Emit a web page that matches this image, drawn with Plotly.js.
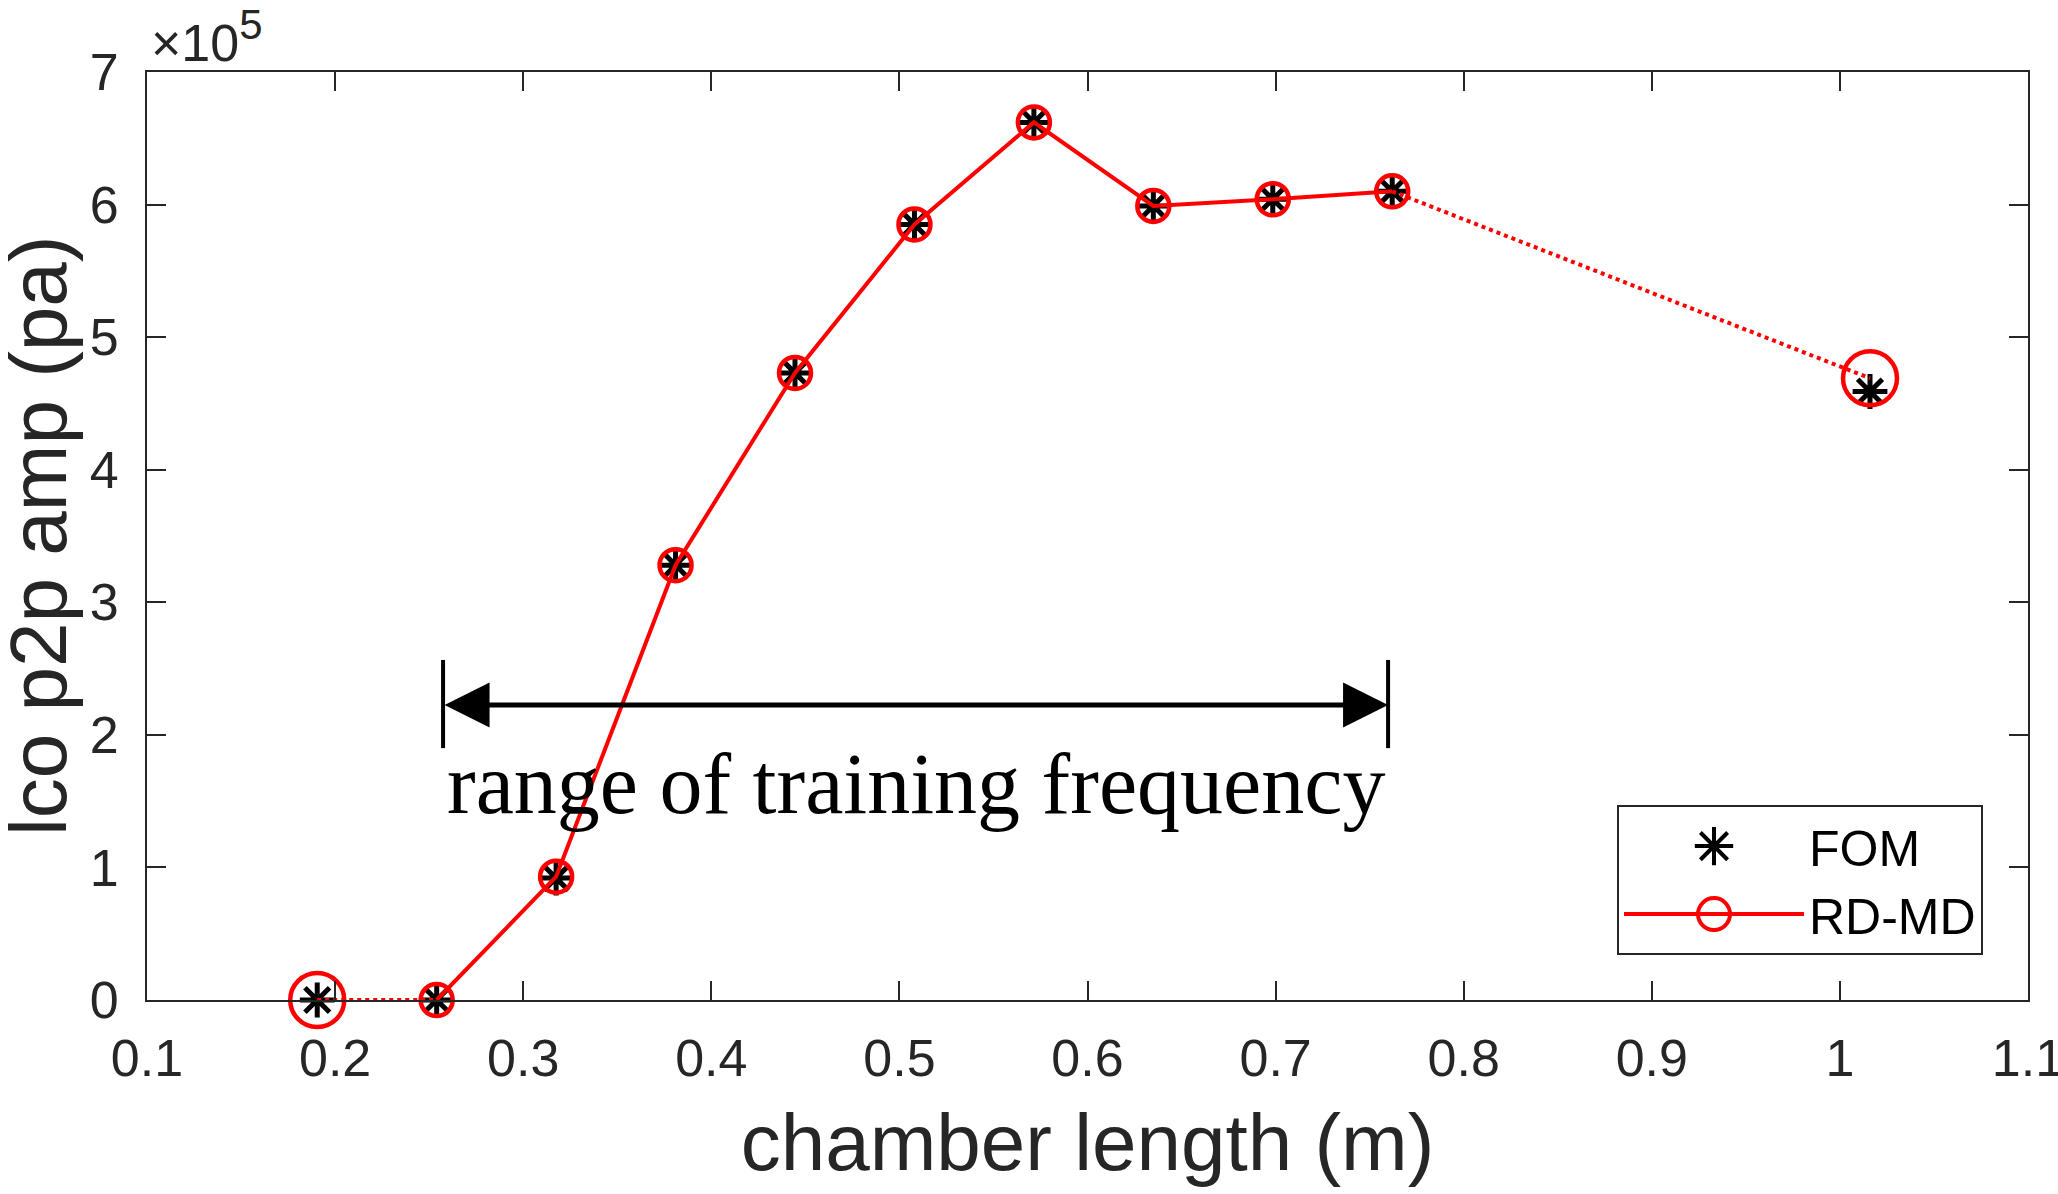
<!DOCTYPE html>
<html>
<head>
<meta charset="utf-8">
<script src="https://cdn.plot.ly/plotly-3.0.1.min.js"></script>
<style>
  html, body { margin: 0; padding: 0; background: #fff; }
  #chart { width: 2058px; height: 1194px; }
</style>
</head>
<body>
<div id="chart"></div>
<script>
'use strict';

/* ============================================================
   DATA
   ============================================================ */
var chamberLength = [0.1905, 0.254, 0.3175, 0.381, 0.4445, 0.508, 0.5715, 0.635, 0.6985, 0.762, 1.016];
var fomAmp        = [0, 0, 92000, 328000, 473000, 585000, 662000, 599000, 604000, 610000, 459000];
var rdmdAmp       = [0, 0, 93000, 328000, 473000, 585000, 662000, 599000, 604000, 610000, 469000];

var trainingRange = [0.2574, 0.7598];   // arrow "range of training frequency"
var arrowLevel    = 222500;
var barSpan       = [190000, 256500];

var xTickLabels = ['0.1', '0.2', '0.3', '0.4', '0.5', '0.6', '0.7', '0.8', '0.9', '1', '1.1'];
var yTickLabels = ['0', '1', '2', '3', '4', '5', '6', '7'];

/* ============================================================
   HELPERS
   ============================================================ */
var AXIS_COLOR = '#262626';
var RED        = '#ff0000';
var FONT       = 'Liberation Sans, Arial, sans-serif';

function inTraining(x) { return x >= 0.25 && x <= 0.77; }

function pick(arr, idx) { return idx.map(function (i) { return arr[i]; }); }

/* legend symbols are capped at 16px by plotly – blow them up to MATLAB size */
function enlargeLegendSymbols(gd) {
  gd.querySelectorAll('.legend .legendpoints path.scatterpts').forEach(function (p) {
    var t = p.getAttribute('transform') || '';
    p.setAttribute('transform', t + ' scale(2)');
    p.style.strokeWidth = '2px';
  });
}

/* ============================================================
   CHART
   ============================================================ */
function initChart() {
  var all     = chamberLength.map(function (_, i) { return i; });
  var inside  = all.filter(function (i) { return inTraining(chamberLength[i]); });
  var outside = all.filter(function (i) { return !inTraining(chamberLength[i]); });
  var first = inside[0], last = inside[inside.length - 1];
  var leftLink  = [outside[0], first];
  var rightLink = [last, outside[outside.length - 1]];

  var traces = [
    { x: chamberLength, y: fomAmp, name: 'FOM',
      type: 'scatter', mode: 'markers', cliponaxis: false,
      marker: { symbol: 'asterisk-open', size: 29, color: '#000',
                line: { color: '#000', width: 5 } } },
    { x: pick(chamberLength, leftLink), y: pick(rdmdAmp, leftLink),
      type: 'scatter', mode: 'lines', showlegend: false, cliponaxis: false,
      line: { color: RED, width: 4, dash: 'dot' } },
    { x: pick(chamberLength, rightLink), y: pick(rdmdAmp, rightLink),
      type: 'scatter', mode: 'lines', showlegend: false, cliponaxis: false,
      line: { color: RED, width: 4, dash: 'dot' } },
    { x: pick(chamberLength, inside), y: pick(rdmdAmp, inside), name: 'RD-MD',
      type: 'scatter', mode: 'lines+markers', cliponaxis: false,
      line: { color: RED, width: 4 },
      marker: { symbol: 'circle-open', size: 32, color: RED,
                line: { color: RED, width: 4.5 } } },
    { x: pick(chamberLength, outside), y: pick(rdmdAmp, outside),
      type: 'scatter', mode: 'markers', showlegend: false, cliponaxis: false,
      marker: { symbol: 'circle-open', size: 54, color: RED,
                line: { color: RED, width: 4.5 } } }
  ];

  var axisCommon = {
    showgrid: false, zeroline: false,
    showline: true, linecolor: AXIS_COLOR, linewidth: 2,
    mirror: 'ticks', ticks: 'inside', ticklen: 19, tickwidth: 2, tickcolor: AXIS_COLOR,
    ticklabeloverflow: 'allow',
    tickfont: { family: FONT, size: 52, color: AXIS_COLOR }
  };

  var layout = {
    width: 2058, height: 1194,
    paper_bgcolor: '#fff', plot_bgcolor: '#fff',
    font: { family: FONT, color: AXIS_COLOR },
    margin: { l: 147, r: 30, t: 72, b: 194 },
    xaxis: Object.assign({}, axisCommon, {
      range: [0.1, 1.1],
      tickvals: xTickLabels.map(Number), ticktext: xTickLabels,
      ticklabelstandoff: 12,
      title: { text: 'chamber length (m)', font: { family: FONT, size: 80, color: AXIS_COLOR }, standoff: 28 }
    }),
    yaxis: Object.assign({}, axisCommon, {
      range: [0, 700000],
      tickvals: yTickLabels.map(function (t) { return Number(t) * 1e5; }), ticktext: yTickLabels,
      ticklabelstandoff: 16
    }),
    showlegend: true,
    legend: {
      x: 0.7815, y: 0.21, xanchor: 'left', yanchor: 'top',
      bgcolor: '#fff', bordercolor: AXIS_COLOR, borderwidth: 2,
      font: { family: FONT, size: 50, color: '#000' },
      itemwidth: 180, tracegroupgap: 0
    },
    shapes: trainingRange.map(function (xv) {
      return { type: 'line', xref: 'x', yref: 'y', x0: xv, x1: xv, y0: barSpan[0], y1: barSpan[1],
               line: { color: '#000', width: 4 } };
    }),
    annotations: [
      { xref: 'x', yref: 'y', axref: 'x', ayref: 'y',
        x: trainingRange[1], y: arrowLevel, ax: trainingRange[0], ay: arrowLevel,
        text: '', showarrow: true, arrowside: 'end+start',
        arrowhead: 2, startarrowhead: 2, arrowsize: 1.8, startarrowsize: 1.8,
        arrowwidth: 5, arrowcolor: '#000', standoff: 0, startstandoff: 0 },
      { xref: 'x', yref: 'y', x: (trainingRange[0] + trainingRange[1]) / 2, y: 163000,
        xanchor: 'center', yanchor: 'middle', showarrow: false,
        text: 'range of training frequency',
        font: { family: 'Liberation Serif, Times New Roman, serif', size: 86, color: '#000' } },
      /* y-axis title, placed like MATLAB's */
      { xref: 'paper', yref: 'paper', x: -0.058, y: 0.5, xanchor: 'center', yanchor: 'middle',
        textangle: -90, showarrow: false,
        text: 'lco p2p amp (pa)',
        font: { family: FONT, size: 80, color: AXIS_COLOR } },
      /* exponent label */
      { xref: 'paper', yref: 'paper', x: 0, y: 1, xanchor: 'left', yanchor: 'bottom',
        xshift: 2, yshift: -2, showarrow: false,
        text: '\u00d710<sup><span style="font-size:42px">5</span></sup>',
        font: { family: FONT, size: 52, color: AXIS_COLOR } }
    ]
  };

  Plotly.newPlot('chart', traces, layout, { displayModeBar: false, staticPlot: true })
    .then(enlargeLegendSymbols);
}

document.addEventListener('DOMContentLoaded', initChart);
</script>
</body>
</html>
